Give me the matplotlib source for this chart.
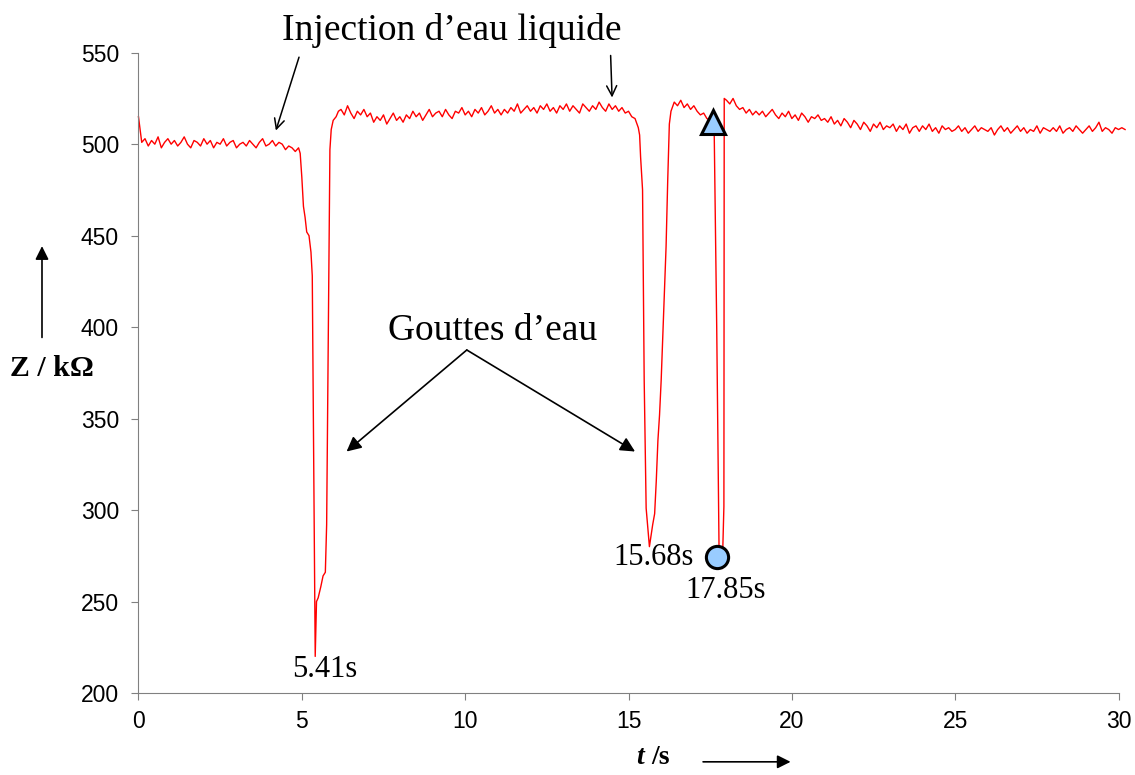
import numpy as np
import matplotlib
matplotlib.use("Agg")
import matplotlib.pyplot as plt

# impedance trace Z (kOhm) vs time (s)
seg_a = [501, 503, 499, 502, 500, 504, 498, 501, 503, 500,
         502, 499, 501, 504, 500, 498, 502, 501, 499, 503,
         500, 502, 498, 501, 500, 503, 499, 501, 502, 498,
         500, 501, 499, 502, 500, 498, 501, 503, 499, 500,
         502, 499, 501, 500, 497, 499, 498, 496, 498]          # t = 0.1 .. 4.9
dip1_t = [4.95, 5.00, 5.05, 5.10, 5.15, 5.22, 5.28, 5.32, 5.41, 5.45,
          5.50, 5.58, 5.65, 5.72, 5.76, 5.86, 5.90, 5.96, 6.05, 6.12]
dip1_z = [495, 482, 466, 460, 452, 450, 441, 428, 220, 250,
          252, 258, 264, 266, 292, 497, 508, 513, 515, 518]
seg_b = [519, 516, 521, 517, 514, 518, 516, 519, 515, 517,
         512, 515, 513, 516, 511, 514, 517, 513, 515, 512,
         516, 514, 518, 515, 517, 513, 516, 519, 515, 517,
         518, 515, 519, 516, 514, 518, 517, 520, 516, 518,
         515, 519, 517, 520, 516, 518, 521, 517, 519, 516,
         519, 517, 520, 518, 522, 517, 519, 521, 518, 520,
         517, 521, 519, 522, 518, 520, 517, 521, 519, 522,
         518, 521, 519, 517, 522, 520, 518, 521, 519, 523,
         520, 518, 522, 519, 521, 518, 520, 517, 518, 515]      # t = 6.2 .. 15.1
dip2_t = [15.20, 15.30, 15.34, 15.37, 15.43, 15.48, 15.54, 15.64, 15.74, 15.80,
          15.85, 15.90, 15.95, 16.00, 16.15, 16.20, 16.25, 16.30, 16.40]
dip2_z = [514, 509, 505, 493, 475, 371, 301, 280, 292, 298,
          316, 338, 352, 371, 444, 480, 511, 518, 523]
seg_c = [521, 524, 520, 522, 519, 521, 518, 516, 517, 514]  # t = 16.5 .. 17.4
dip3_t = [17.50, 17.56, 17.62, 17.70, 17.77, 17.87, 17.92, 17.93]
dip3_z = [513, 512, 511, 400, 281, 268, 302, 525]
seg_d = [524, 522, 525, 521, 519, 520, 517, 519, 516, 518,
         516, 518, 515, 517, 519, 516, 514, 517, 515, 518,
         514, 516, 513, 517, 515, 512, 515, 514, 516, 513,
         514, 512, 515, 511, 513, 510, 514, 512, 509, 513,
         511, 508, 512, 510, 507, 511, 509, 512, 508, 510,
         509, 511, 507, 510, 508, 511, 506, 509, 510, 507,
         510, 508, 511, 507, 509, 506, 510, 508, 509, 507,
         508, 510, 507, 509, 506, 508, 510, 507, 509, 508,
         507, 509, 505, 508, 510, 507, 509, 506, 508, 510,
         507, 509, 506, 508, 507, 510, 506, 509, 508, 507,
         509, 507, 510, 506, 508, 509, 507, 510, 508, 506,
         508, 510, 507, 509, 512, 507, 509, 508, 506, 509,
         508, 509, 508]                                        # t = 18.0 .. 30.2

# markers and labels
tri_pt = (17.58, 512)
circ_pt = (17.70, 274.5)
minima = [("5.41s", 5.71, 213), ("15.68s", 15.78, 274), ("17.85s", 17.98, 256)]


def grid(start, n):
    return list(np.round(start + 0.1 * np.arange(n), 2))


t = [0.0] + grid(0.1, len(seg_a)) + dip1_t + grid(6.2, len(seg_b)) + dip2_t \
    + grid(16.5, len(seg_c)) + dip3_t + grid(18.0, len(seg_d))
z = [515] + seg_a + dip1_z + seg_b + dip2_z + seg_c + dip3_z + seg_d

fig = plt.figure(figsize=(11.35, 7.75), dpi=100)
ax = fig.add_axes([0.122, 0.1058, 0.8635, 0.8262])

ax.plot(t, z, color="red", lw=1.0, clip_on=False, zorder=2)
ax.plot(*tri_pt, marker="^", ms=17, mfc="#99ccff", mec="black", mew=2.2,
        clip_on=False, zorder=3)
ax.plot(*circ_pt, marker="o", ms=16, mfc="#99ccff", mec="black", mew=2.2,
        clip_on=False, zorder=3)

ax.set_xlim(0, 30)
ax.set_ylim(200, 550)
ax.set_xticks(range(0, 31, 5))
ax.set_yticks(range(200, 551, 50))
for s in ["top", "right"]:
    ax.spines[s].set_visible(False)
for s in ["left", "bottom"]:
    ax.spines[s].set_color("#808080")
ax.tick_params(direction="out", length=5, color="#808080", labelsize=16.5)
ax.tick_params(axis="y", pad=9)
ax.tick_params(axis="x", pad=7)
for lab in ax.get_xticklabels() + ax.get_yticklabels():
    lab.set_family("Liberation Sans")

serif = "Liberation Serif"
for txt, x, y in minima:
    ax.text(x, y, txt, family=serif, fontsize=22, ha="center", va="center")

ax.text(9.6, 562, "Injection d\u2019eau liquide", family=serif, fontsize=27,
        ha="center", va="center", clip_on=False)
ax.annotate("", xy=(4.18, 506), xytext=(4.94, 549), annotation_clip=False,
            arrowprops=dict(arrowstyle="->", lw=1.1, color="black",
                            mutation_scale=18))
ax.annotate("", xy=(14.5, 524), xytext=(14.45, 550), annotation_clip=False,
            arrowprops=dict(arrowstyle="->", lw=1.1, color="black",
                            mutation_scale=18))

ax.text(10.85, 398, "Gouttes d\u2019eau", family=serif, fontsize=27,
        ha="center", va="center")
for tip in [(6.37, 332), (15.2, 332)]:
    ax.annotate("", xy=tip, xytext=(10.05, 387.5),
                arrowprops=dict(arrowstyle="-|>", lw=1.2, color="black",
                                mutation_scale=22, shrinkA=0, shrinkB=0))

# axis titles with their arrows
fig.text(0.046, 0.525, "Z / k\u03a9", family=serif, fontsize=21.5,
         fontweight="bold", ha="center", va="center")
fig.patches.append(matplotlib.patches.FancyArrowPatch(
    (0.037, 0.561), (0.037, 0.686), transform=fig.transFigure,
    arrowstyle="-|>", mutation_scale=20, lw=1.2, color="black"))
fig.text(0.564, 0.022, "t", family=serif, fontsize=20, fontweight="bold",
         style="italic", ha="center", va="center")
fig.text(0.574, 0.022, "/s", family=serif, fontsize=20, fontweight="bold",
         ha="left", va="center")
fig.patches.append(matplotlib.patches.FancyArrowPatch(
    (0.617, 0.017), (0.699, 0.017), transform=fig.transFigure,
    arrowstyle="-|>", mutation_scale=20, lw=1.2, color="black"))

fig.savefig("out.png", dpi=100)
